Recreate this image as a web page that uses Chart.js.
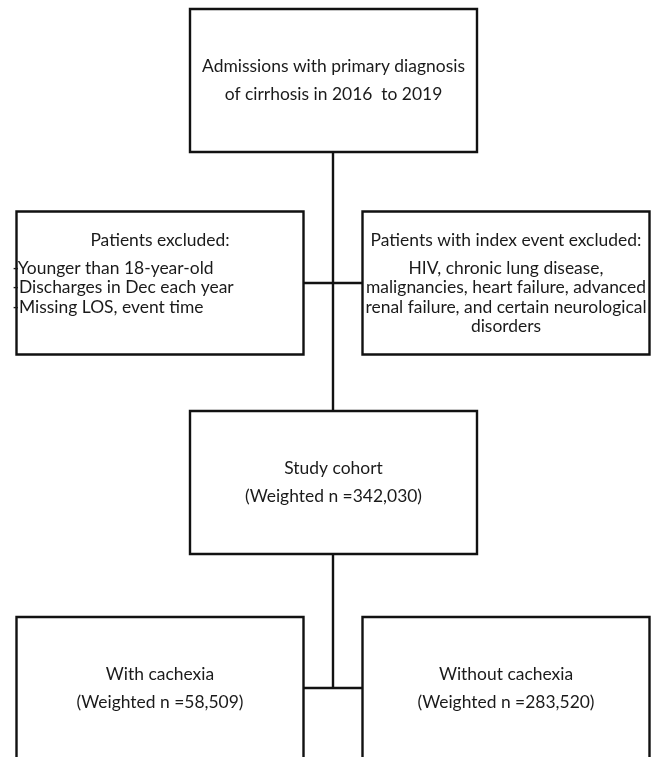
<!DOCTYPE html>
<html>
<head>
<meta charset="utf-8">
<script src="https://cdn.jsdelivr.net/npm/chart.js@4.4.1/dist/chart.umd.min.js"></script>
<style>
  html, body { margin: 0; padding: 0; background: #fff; }
  #wrap { width: 653px; height: 757px; }
</style>
</head>
<body>
<div id="wrap"><canvas id="flow"></canvas></div>
<script>
// Flow diagram: cirrhosis cohort selection
// each box: paragraphs of lines (paragraph gap is wider than line gap)
const nodeText = [
  [['Admissions with primary diagnosis'], ['of cirrhosis in 2016  to 2019']],
  [['Patients excluded:'], ['-Younger than 18-year-old', '-Discharges in Dec each year', '-Missing LOS, event time']],
  [['Patients with index event excluded:'], ['HIV, chronic lung disease,', 'malignancies, heart failure, advanced', 'renal failure, and certain neurological', 'disorders']],
  [['Study cohort'], ['(Weighted n =342,030)']],
  [['With cachexia'], ['(Weighted n =58,509)']],
  [['Without cachexia'], ['(Weighted n =283,520)']]
];
// box centres in diagram units (x 0-653, y 0-757 top-down)
const nodeX = [333.5, 160, 506, 333.5, 160, 506];
const nodeY = [80.5, 283, 283, 482.5, 688.5, 688.5];
const nodeTextTop = [false, true, true, false, false, false];

// connector lines
const links = [
  [[333, 152], [333, 411]],
  [[303, 283], [363, 283]],
  [[333, 554], [333, 688]],
  [[303, 688], [363, 688]]
];

const BOX_W = 287, BOX_H = 143;
const LINE_GAP = 19.5, PARA_GAP = 27.5;
const INK = '#111';

function boxPath(cx, cy) {
  const l = cx - BOX_W / 2, r = cx + BOX_W / 2, t = cy - BOX_H / 2, b = cy + BOX_H / 2;
  return [{x:l,y:t},{x:r,y:t},{x:r,y:b},{x:l,y:b},{x:l,y:t}];
}

const datasets = [];
nodeX.forEach((x, i) => {
  datasets.push({ data: boxPath(x, nodeY[i]), showLine: true, borderColor: INK, borderWidth: 2.4,
    pointRadius: 0, fill: false, borderJoinStyle: 'miter', borderCapStyle: 'square' });
});
links.forEach(seg => {
  datasets.push({ data: seg.map(p => ({x:p[0], y:p[1]})), showLine: true, borderColor: INK, borderWidth: 2.4,
    pointRadius: 0, fill: false });
});

const boxLabels = {
  id: 'boxLabels',
  afterDatasetsDraw(chart) {
    const { ctx, scales: { x, y } } = chart;
    const family = 'Lato, "Open Sans", sans-serif';
    ctx.save();
    ctx.font = '17px ' + family;
    // size the type so the widest line fills the box like the original
    const fs = 17 * 280 / ctx.measureText('malignancies, heart failure, advanced').width;
    ctx.font = fs.toFixed(2) + 'px ' + family;
    ctx.fillStyle = '#1a1a1a';
    ctx.textBaseline = 'middle';
    nodeText.forEach((paras, i) => {
      let span = 0;
      paras.forEach((p, k) => { span += (k ? PARA_GAP : 0) + (p.length - 1) * LINE_GAP; });
      let cy = nodeTextTop[i] ? nodeY[i] - BOX_H / 2 + 29 : nodeY[i] - span / 2;
      paras.forEach((p, k) => {
        if (k) cy += PARA_GAP;
        p.forEach((line, j) => {
          if (j) cy += LINE_GAP;
          const leftAligned = i === 1 && k === 1;
          ctx.textAlign = leftAligned ? 'left' : 'center';
          const tx = leftAligned ? nodeX[i] - BOX_W / 2 - 4 : nodeX[i];
          ctx.fillText(line, x.getPixelForValue(tx), y.getPixelForValue(cy));
        });
      });
    });
    ctx.restore();
  }
};

new Chart(document.getElementById('flow'), {
  type: 'scatter',
  data: { datasets },
  options: {
    responsive: true,
    maintainAspectRatio: false,
    animation: false,
    layout: { padding: 0 },
    plugins: { legend: { display: false }, tooltip: { enabled: false } },
    scales: {
      x: { type: 'linear', min: 0, max: 653, display: false },
      y: { type: 'linear', min: 0, max: 757, reverse: true, display: false }
    }
  },
  plugins: [boxLabels]
});
</script>
</body>
</html>
